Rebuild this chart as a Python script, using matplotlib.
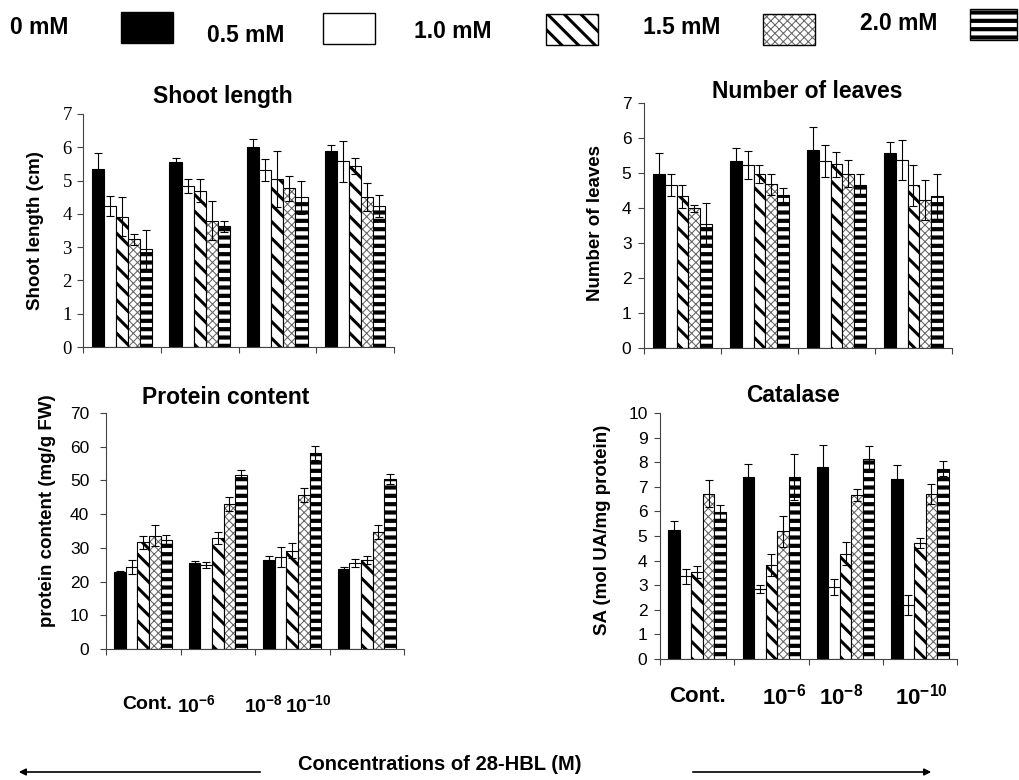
import numpy as np
import matplotlib
matplotlib.use('Agg')
import matplotlib.pyplot as plt
from matplotlib.patches import Rectangle, FancyArrowPatch

plt.rcParams['font.family'] = ['Liberation Sans', 'DejaVu Sans']
plt.rcParams['mathtext.fontset'] = 'custom'
plt.rcParams['mathtext.rm'] = 'Liberation Sans'
plt.rcParams['mathtext.bf'] = 'Liberation Sans:bold'
plt.rcParams['hatch.linewidth'] = 2.0

# ---- data (one list per HBL concentration group, 4 x-categories each) ----
series_names = ['0 mM', '0.5 mM', '1.0 mM', '1.5 mM', '2.0 mM']
categories = ['Cont.', r'$\mathbf{10^{-6}}$', r'$\mathbf{10^{-8}}$', r'$\mathbf{10^{-10}}$']

shoot_mean = [[5.34, 5.55, 6.00, 5.90],
              [4.24, 4.84, 5.32, 5.58],
              [3.92, 4.70, 5.06, 5.44],
              [3.23, 3.80, 4.77, 4.50],
              [2.93, 3.63, 4.50, 4.25]]
shoot_err = [[0.48, 0.14, 0.24, 0.17],
             [0.30, 0.21, 0.32, 0.62],
             [0.58, 0.34, 0.84, 0.25],
             [0.16, 0.59, 0.38, 0.42],
             [0.58, 0.17, 0.50, 0.33]]

leaves_mean = [[4.98, 5.34, 5.67, 5.57],
               [4.66, 5.23, 5.34, 5.37],
               [4.33, 4.98, 5.25, 4.65],
               [4.00, 4.68, 4.98, 4.22],
               [3.55, 4.37, 4.66, 4.33]]
leaves_err = [[0.59, 0.37, 0.64, 0.33],
              [0.32, 0.39, 0.46, 0.56],
              [0.32, 0.26, 0.36, 0.58],
              [0.10, 0.30, 0.39, 0.57],
              [0.59, 0.20, 0.32, 0.65]]

protein_mean = [[22.7, 25.6, 26.4, 23.7],
                [24.2, 24.8, 27.3, 25.5],
                [31.6, 32.9, 29.1, 26.4],
                [33.6, 43.0, 45.6, 34.7],
                [32.2, 51.7, 58.2, 50.4]]
protein_err = [[0.3, 0.6, 1.3, 0.6],
               [2.1, 0.9, 3.0, 1.2],
               [2.0, 1.7, 2.2, 1.1],
               [3.1, 2.1, 2.1, 2.1],
               [1.7, 1.3, 2.0, 1.6]]

catalase_mean = [[5.26, 7.40, 7.79, 7.32],
                 [3.36, 2.85, 2.93, 2.21],
                 [3.54, 3.82, 4.28, 4.72],
                 [6.71, 5.19, 6.67, 6.71],
                 [5.96, 7.40, 8.13, 7.74]]
catalase_err = [[0.34, 0.53, 0.91, 0.55],
                [0.31, 0.15, 0.32, 0.41],
                [0.23, 0.45, 0.46, 0.19],
                [0.55, 0.64, 0.24, 0.39],
                [0.31, 0.92, 0.53, 0.30]]

# face, hatch colour, hatch, hatch linewidth
styles = [('black', 'black', None, 1.0),
          ('white', 'black', None, 1.0),
          ('white', 'black', '\\\\', 2.2),
          ('white', '#666666', 'xxxx', 0.75),
          ('white', 'black', '--', 3.0)]

BAR_W = 0.155
W, H = 1020, 780


def px(x, y):
    return x / W, 1 - y / H


def hatch_lw(patch, lw):
    if hasattr(patch, 'set_hatch_linewidth'):
        patch.set_hatch_linewidth(lw)


def draw_panel(ax, means, errs, ymax, ystep, ylabel, title, title_xy, label_xy,
               tick_pad=4, tick_font='Liberation Sans', tick_size=12.5):
    xs = np.arange(len(means[0])) + 0.5
    for j in range(len(means)):
        face, hcol, hatch, hlw = styles[j]
        x = xs + (j - 2) * BAR_W
        bars = ax.bar(x, means[j], BAR_W, color=face, edgecolor=hcol, hatch=hatch,
                      linewidth=0, zorder=2)
        for b in bars:
            hatch_lw(b, hlw)
        ax.bar(x, means[j], BAR_W, fill=False, edgecolor='black', linewidth=0.8, zorder=2)
        ax.errorbar(x, means[j], yerr=errs[j], fmt='none', ecolor='black',
                    elinewidth=0.8, capsize=2.8, capthick=0.8, zorder=3)

    ax.set_xlim(0, 4)
    ax.set_ylim(0, ymax)
    ax.set_xticks(np.arange(5))
    ax.set_xticklabels([])
    yt = np.arange(0, ymax + ystep / 2, ystep)
    ax.set_yticks(yt, labels=['%d' % v for v in yt], fontfamily=tick_font,
                  fontsize=tick_size)
    ax.tick_params(direction='out', length=4, width=0.8, color='#444444')
    ax.tick_params(axis='y', pad=tick_pad)
    for s in ['top', 'right']:
        ax.spines[s].set_visible(False)
    for s in ['left', 'bottom']:
        ax.spines[s].set_color('#444444')
        ax.spines[s].set_linewidth(0.8)
    ax.set_ylabel(ylabel, fontsize=13.5, fontweight='bold')
    ax.yaxis.set_label_coords(*label_xy)
    ax.text(title_xy[0], title_xy[1], title, transform=ax.transAxes, ha='center',
            va='center', fontsize=16.5, fontweight='bold')


fig = plt.figure(figsize=(10.2, 7.8), dpi=100)

ax1 = fig.add_axes([83 / W, 1 - 347 / H, 311 / W, 233 / H])
draw_panel(ax1, shoot_mean, shoot_err, 7, 1, 'Shoot length (cm)', 'Shoot length',
           (0.45, 1.073), (-0.125, 0.5), tick_pad=4, tick_font='Liberation Serif',
           tick_size=13.5)

ax2 = fig.add_axes([644 / W, 1 - 348 / H, 308 / W, 245 / H])
draw_panel(ax2, leaves_mean, leaves_err, 7, 1, 'Number of leaves', 'Number of leaves',
           (0.53, 1.045), (-0.13, 0.51), tick_pad=5)

ax3 = fig.add_axes([106 / W, 1 - 649 / H, 298 / W, 236 / H])
draw_panel(ax3, protein_mean, protein_err, 70, 10, 'protein content (mg/g FW)',
           'Protein content', (0.40, 1.064), (-0.168, 0.585), tick_pad=8)

ax4 = fig.add_axes([660 / W, 1 - 659 / H, 297 / W, 246 / H])
draw_panel(ax4, catalase_mean, catalase_err, 10, 1, 'SA (mol UA/mg protein)', 'Catalase',
           (0.448, 1.073), (-0.165, 0.524), tick_pad=5)

# hand-placed category labels under the lower panels
prot_label_x = [0.55, 1.22, 2.12, 2.71]
for xl, lab in zip(prot_label_x, categories):
    ax3.text(xl, -0.237, lab, transform=ax3.get_xaxis_transform(), ha='center',
             va='center', fontsize=14, fontweight='bold')
cat_label_x = [0.5, 1.67, 2.44, 3.52]
for xl, lab in zip(cat_label_x, categories):
    ax4.text(xl, -0.154, lab, transform=ax4.get_xaxis_transform(), ha='center',
             va='center', fontsize=16, fontweight='bold')

# legend row across the top
leg_text_x = [10, 207, 414, 643, 860]
leg_text_y = [27, 35, 31, 28, 24]
leg_box_x = [121, 323, 546, 763, 970]
leg_box_y = [12, 13, 14, 14, 9]
for j, name in enumerate(series_names):
    fx, fy = px(leg_text_x[j], leg_text_y[j])
    fig.text(fx, fy, name, ha='left', va='center', fontsize=16.5, fontweight='bold')
    face, hcol, hatch, hlw = styles[j]
    bw = 52 if j < 4 else 47
    x0, y0 = px(leg_box_x[j], leg_box_y[j] + 31)
    r = Rectangle((x0, y0), bw / W, 31 / H, transform=fig.transFigure, facecolor=face,
                  edgecolor=hcol, hatch=hatch, linewidth=0)
    hatch_lw(r, hlw)
    fig.add_artist(r)
    fig.add_artist(Rectangle((x0, y0), bw / W, 31 / H, transform=fig.transFigure,
                             fill=False, edgecolor='black', linewidth=1.0))

# bottom axis caption with arrows
fx, fy = px(440, 765)
fig.text(fx, fy, 'Concentrations of 28-HBL (M)', ha='center', va='center', fontsize=14.5,
         fontweight='bold')
for xa, xb in [(263, 16), (690, 934)]:
    fig.add_artist(FancyArrowPatch(px(xa, 772), px(xb, 772), transform=fig.transFigure,
                                   arrowstyle='-|>', mutation_scale=10, linewidth=1.2,
                                   color='black'))

fig.savefig('out.png', dpi=100)
